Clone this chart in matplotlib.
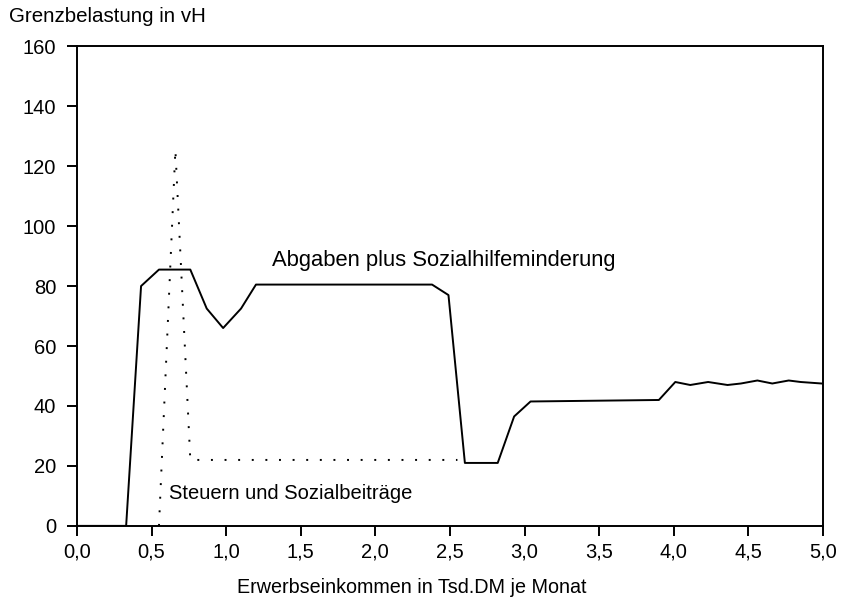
import numpy as np
import matplotlib.pyplot as plt
from matplotlib.ticker import FuncFormatter

plt.rcParams['font.family'] = ['Liberation Sans', 'DejaVu Sans']

# Abgaben plus Sozialhilfeminderung (solid)
x_total = [0.0, 0.33, 0.43, 0.55, 0.76, 0.87, 0.98, 1.10, 1.20, 2.38, 2.49, 2.60,
           2.82, 2.93, 3.04, 3.90, 4.01, 4.11, 4.23, 4.36, 4.45, 4.56, 4.66, 4.77, 4.85, 4.99]
y_total = [0.0, 0.0, 80.0, 85.5, 85.5, 72.5, 66.0, 72.5, 80.5, 80.5, 77.0, 21.0,
           21.0, 36.5, 41.5, 42.0, 48.0, 47.0, 48.0, 47.0, 47.5, 48.5, 47.5, 48.5, 48.0, 47.5]

# Steuern und Sozialbeitraege (dotted)
x_tax = [0.55, 0.66, 0.76, 2.55]
y_tax = [0.0, 125.5, 22.0, 22.0]

x_ticks = [0.0, 0.5, 1.0, 1.5, 2.0, 2.5, 3.0, 3.5, 4.0, 4.5, 5.0]
y_ticks = [0, 20, 40, 60, 80, 100, 120, 140, 160]


def main():
    fig = plt.figure(figsize=(8.45, 6.01), dpi=100)
    ax = fig.add_axes([0.091, 0.125, 0.883, 0.798])

    ax.plot(x_tax, y_tax, color='black', linestyle=(0, (1, 6)), linewidth=1.4)
    ax.plot(x_total, y_total, color='black', linewidth=1.4)

    ax.set_xlim(0, 5)
    ax.set_ylim(0, 160)
    ax.set_xticks(x_ticks)
    ax.set_yticks(y_ticks)
    ax.xaxis.set_major_formatter(FuncFormatter(lambda v, p: f"{v:.1f}".replace('.', ',')))
    ax.tick_params(direction='out', length=7, width=1.4, labelsize=14.5)
    ax.tick_params(axis='x', pad=5)
    ax.tick_params(axis='y', pad=8)
    for s in ax.spines.values():
        s.set_linewidth(1.4)

    ax.text(1.31, 85.0, "Abgaben plus Sozialhilfeminderung", fontsize=15.8, va='bottom')
    ax.text(0.62, 7.5, "Steuern und Sozialbeiträge", fontsize=14.5, va='bottom')

    fig.text(0.011, 0.972, "Grenzbelastung in vH", fontsize=14.8, va='center')
    fig.text(0.487, 0.022, "Erwerbseinkommen in Tsd.DM je Monat", fontsize=14.2, ha='center', va='center')

    fig.savefig("out.png", dpi=100)


if __name__ == "__main__":
    main()
